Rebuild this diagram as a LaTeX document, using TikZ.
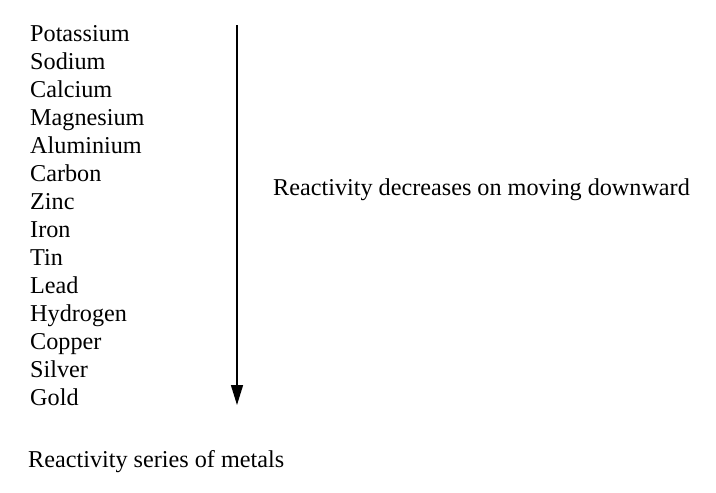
\documentclass[tikz,border=0pt]{standalone}
\usepackage{fontspec}
\setmainfont{Liberation Serif}
\usetikzlibrary{arrows.meta}
\begin{document}
\begin{tikzpicture}[x=1pt,y=-1pt,
  txt/.style={anchor=base west,inner sep=0pt,font=\fontsize{24.2}{28}\selectfont},
  arr/.style={line width=1.5pt,-{Triangle[length=20pt,width=12pt]}}]
\useasboundingbox (0,0) rectangle (716,493);
\foreach \n [count=\i from 0] in {Potassium,Sodium,Calcium,Magnesium,Aluminium,Carbon,Zinc,Iron,Tin,Lead,Hydrogen,Copper,Silver,Gold}
  \node[txt] (m\i) at (30,41+28*\i) {\n};
\coordinate (top) at (237,25);
\coordinate (bot) at (237,405);
\draw[arr] (top) -- (bot);
\node[txt] (lbl) at (273,195) {Reactivity decreases on moving downward};
\node[txt] (cap) at (28,467) {Reactivity series of metals};
\end{tikzpicture}
\end{document}
